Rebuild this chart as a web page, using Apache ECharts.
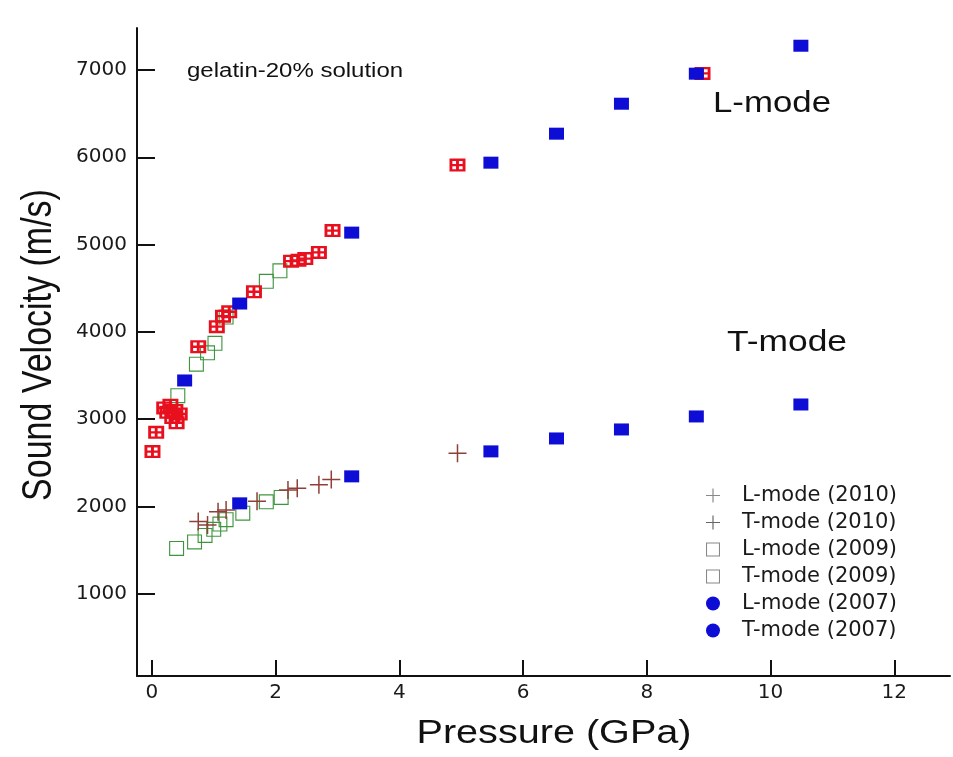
<!DOCTYPE html>
<html>
<head>
<meta charset="utf-8">
<script src="https://cdn.jsdelivr.net/npm/echarts@6/dist/echarts.min.js"></script>
<style>
  html, body { margin: 0; padding: 0; background: #fff; }
  #chart { width: 953px; height: 757px; }
</style>
</head>
<body>
<div id="chart"></div>
<script>
// [pressure GPa, velocity m/s]
const lMode2010 = [
  [0.01, 2630], [0.07, 2850], [0.2, 3130], [0.25, 3080], [0.3, 3160], [0.33, 3020],
  [0.38, 3100], [0.4, 2960], [0.45, 3060], [0.75, 3830], [1.05, 4060], [1.15, 4180],
  [1.25, 4230], [1.65, 4460], [2.25, 4810], [2.37, 4820], [2.48, 4840], [2.7, 4910],
  [2.92, 5160], [4.94, 5910], [8.9, 6960]
]
const tMode2010 = [
  [0.75, 1830], [0.9, 1790], [1.07, 1940], [1.2, 1960], [1.7, 2060], [2.2, 2190],
  [2.35, 2210], [2.7, 2250], [2.9, 2310], [4.94, 2610]
]
const lMode2009 = [
  [0.42, 3270], [0.72, 3630], [0.9, 3760], [1.02, 3870], [1.2, 4170], [1.85, 4580], [2.07, 4700]
]
const tMode2009 = [
  [0.4, 1520], [0.69, 1595], [0.86, 1670], [1.0, 1740], [1.1, 1800], [1.2, 1850],
  [1.47, 1925], [1.85, 2055], [2.09, 2105]
]
const lMode2007 = [
  [0.53, 3444], [1.42, 4325], [3.23, 5137], [5.48, 5938], [6.54, 6270], [7.59, 6613],
  [8.8, 6957], [10.49, 7277]
]
const tMode2007 = [
  [1.42, 2037], [3.23, 2346], [5.48, 2632], [6.54, 2780], [7.59, 2883], [8.8, 3032], [10.49, 3169]
]
const xTicks = [0, 2, 4, 6, 8, 10, 12]
const yTicks = [1000, 2000, 3000, 4000, 5000, 6000, 7000]

const PLUS = 'path://M11,0H13V11H24V13H13V24H11V13H0V11H11Z'
const OPEN_SQUARE = 'path://M0,0H20V20H0ZM1.5,1.5V18.5H18.5V1.5Z'
const BOX_CROSS = 'path://M0,0H20V20H0ZM3.6,3.6V8.2H8.2V3.6ZM11.8,3.6V8.2H16.4V3.6ZM3.6,11.8V16.4H8.2V11.8ZM11.8,11.8V16.4H16.4V11.8Z'

const sans = 'Liberation Sans, Arial, sans-serif'
const wide = 'DejaVu Sans, Verdana, sans-serif'

const chart = echarts.init(document.getElementById('chart'))

function label(text, x, y, size, opts = {}) {
  return {
    type: 'text',
    x, y,
    scaleX: opts.scaleX ?? 1.2,
    scaleY: opts.scaleY ?? 1,
    rotation: opts.rotation ?? 0,
    style: {
      text,
      fontSize: size,
      fontFamily: sans,
      fill: '#111',
      align: opts.align ?? 'left',
      verticalAlign: 'middle',
      textAlign: opts.align ?? 'left',
      textVerticalAlign: 'middle'
    }
  }
}

chart.setOption({
  animation: false,
  backgroundColor: '#fff',
  grid: { left: 137, right: 3, top: 28, bottom: 81 },
  xAxis: {
    type: 'value',
    min: -0.24,
    max: 12.9,
    splitLine: { show: false },
    axisLine: { onZero: false, lineStyle: { color: '#111', width: 2 } },
    axisTick: { inside: true, length: 16, customValues: xTicks, lineStyle: { color: '#111', width: 2 } },
    axisLabel: { customValues: xTicks, margin: 7, fontSize: 20, fontFamily: wide, color: '#1a1a1a' }
  },
  yAxis: {
    type: 'value',
    min: 60,
    max: 7480,
    splitLine: { show: false },
    axisLine: { onZero: false, lineStyle: { color: '#111', width: 2 } },
    axisTick: { inside: true, length: 18, customValues: yTicks, lineStyle: { color: '#111', width: 2 } },
    axisLabel: {
      customValues: yTicks, margin: 10, fontSize: 20, fontFamily: wide, color: '#1a1a1a',
      formatter: v => String(v)
    }
  },
  legend: {
    orient: 'vertical',
    left: 701,
    top: 480,
    itemWidth: 14,
    itemHeight: 14,
    itemGap: 6,
    textStyle: { fontSize: 21, fontFamily: wide, color: '#1a1a1a', lineHeight: 21, padding: [0, 0, 0, 17] },
    data: [
      { name: 'L-mode (2010)', icon: PLUS, itemStyle: { color: '#888', opacity: 1 } },
      { name: 'T-mode (2010)', icon: PLUS, itemStyle: { color: '#666', opacity: 1 } },
      { name: 'L-mode (2009)', icon: OPEN_SQUARE, itemStyle: { color: '#888', opacity: 1 } },
      { name: 'T-mode (2009)', icon: OPEN_SQUARE, itemStyle: { color: '#888', opacity: 1 } },
      { name: 'L-mode (2007)', icon: 'circle', itemStyle: { color: '#0d0dd6', opacity: 1 } },
      { name: 'T-mode (2007)', icon: 'circle', itemStyle: { color: '#0d0dd6', opacity: 1 } }
    ]
  },
  series: [
    { name: 'T-mode (2009)', type: 'scatter', data: tMode2009, symbol: OPEN_SQUARE, symbolSize: 15,
      itemStyle: { color: '#3f953f', opacity: 1 } },
    { name: 'L-mode (2009)', type: 'scatter', data: lMode2009, symbol: OPEN_SQUARE, symbolSize: 15,
      itemStyle: { color: '#3f953f', opacity: 1 } },
    { name: 'T-mode (2010)', type: 'scatter', data: tMode2010, symbol: PLUS, symbolSize: 18,
      itemStyle: { color: '#8e4038', opacity: 1 } },
    { name: 'L-mode (2010)', type: 'scatter', data: lMode2010, symbol: BOX_CROSS, symbolSize: [16, 13],
      itemStyle: { color: '#e8101e', opacity: 1 } },
    { name: 'L-mode (2007)', type: 'scatter', data: lMode2007, symbol: 'rect', symbolSize: [15, 12],
      itemStyle: { color: '#0d0dd6', opacity: 1 } },
    { name: 'T-mode (2007)', type: 'scatter', data: tMode2007, symbol: 'rect', symbolSize: [15, 12],
      itemStyle: { color: '#0d0dd6', opacity: 1 } }
  ],
  graphic: [
    label('gelatin-20% solution', 187, 71, 20),
    label('L-mode', 713, 104, 29),
    label('T-mode', 727, 343, 29.5),
    label('Pressure (GPa)', 554, 734, 33, { align: 'center' }),
    label('Sound Velocity (m/s)', 39, 345, 34, { align: 'center', rotation: Math.PI / 2, scaleX: 1, scaleY: 1.25 })
  ]
})
</script>
</body>
</html>
